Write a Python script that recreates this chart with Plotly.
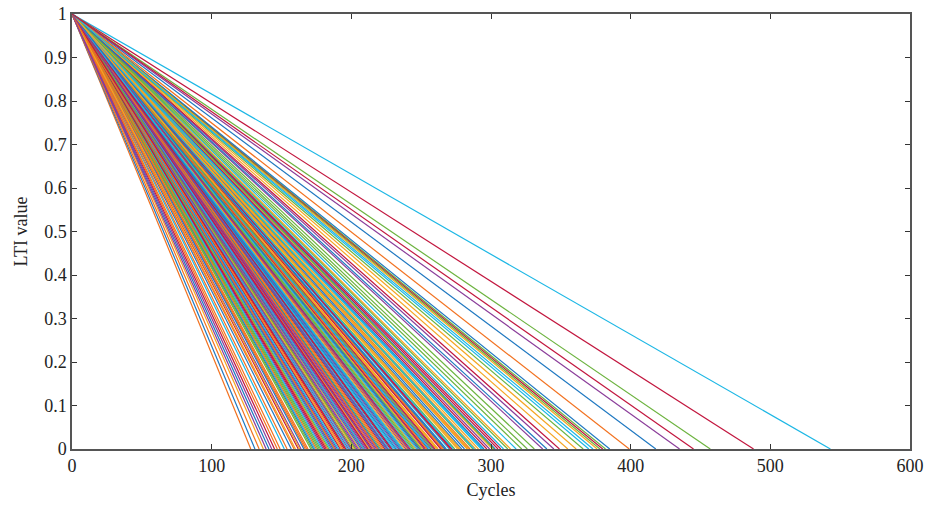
import plotly.graph_objects as go

# Cycle counts at which each LTI trajectory reaches zero
end_cycles = [
    214, 167, 289, 198, 241, 152, 305, 226, 183, 262, 345, 209, 174, 236, 281, 128,
    193, 257, 221, 309, 162, 248, 203, 277, 186, 331, 231, 145, 268, 212, 196, 299,
    178, 243, 219, 157, 285, 206, 252, 171, 318, 228, 190, 265, 137, 239, 201,
    293, 181, 255, 216, 361, 164, 274, 233, 195, 303, 149, 246, 210, 188, 270, 224,
    131, 283, 200, 259, 176, 237, 297, 207, 169, 251, 218, 326, 185, 264, 229,
    154, 291, 204, 244, 373, 192, 279, 222, 160, 234, 312, 199, 272, 141, 249, 213,
    180, 287, 227, 253, 173, 240, 301, 208, 366, 197, 260, 220, 134, 276, 189,
    245, 230, 307, 166, 266, 202, 337, 184, 256, 215, 295, 159, 238, 211, 382, 191,
    271, 225, 147, 283, 205, 250, 179, 349, 232, 194, 262, 217, 172, 288, 242,
    187, 223, 314, 143, 258, 209, 380, 235, 168, 278, 200, 322, 247, 182, 267, 219,
    355, 226, 177, 294, 212, 385, 254, 163, 241, 203, 273, 229, 340, 188, 261,
    139, 302, 236, 196, 249, 175, 284, 214, 378,
    543, 488, 418, 399, 376, 435, 457, 370, 445,
]
start_value = 1.0
end_value = 0.0

x_ticks = [0, 100, 200, 300, 400, 500, 600]
y_ticks = [0, 0.1, 0.2, 0.3, 0.4, 0.5, 0.6, 0.7, 0.8, 0.9, 1]
y_tick_labels = ["0", "0.1", "0.2", "0.3", "0.4", "0.5", "0.6", "0.7", "0.8", "0.9", "1"]

palette = ["#1f78c1", "#f2711f", "#f5a623", "#8b3d9a", "#6cb33f", "#1cb7e5", "#c2163e"]

fig = go.Figure()
for i, L in enumerate(end_cycles):
    fig.add_trace(go.Scatter(
        x=[0, L], y=[start_value, end_value], mode="lines",
        line=dict(color=palette[i % len(palette)], width=1.2),
        showlegend=False, hoverinfo="skip",
    ))

font = dict(family="Liberation Serif, Times New Roman, serif", size=18, color="#222")
axis_common = dict(
    showgrid=False, zeroline=False, showline=True, linecolor="#555", linewidth=1.5,
    mirror="ticks", ticks="inside", ticklen=5, tickcolor="#333", tickwidth=1,
    tickfont=font, automargin=False,
)
fig.update_layout(
    width=929, height=507,
    margin=dict(l=72, r=19, t=14, b=58),
    paper_bgcolor="white", plot_bgcolor="white",
    font=font,
    xaxis=dict(range=[0, 600], tickvals=x_ticks,
               title=dict(text="Cycles", font=font, standoff=8), **axis_common),
    yaxis=dict(range=[0, 1], tickvals=y_ticks, ticktext=y_tick_labels,
               title=dict(text="LTI value", font=font, standoff=12), **axis_common),
)
fig.write_html("out.html")
